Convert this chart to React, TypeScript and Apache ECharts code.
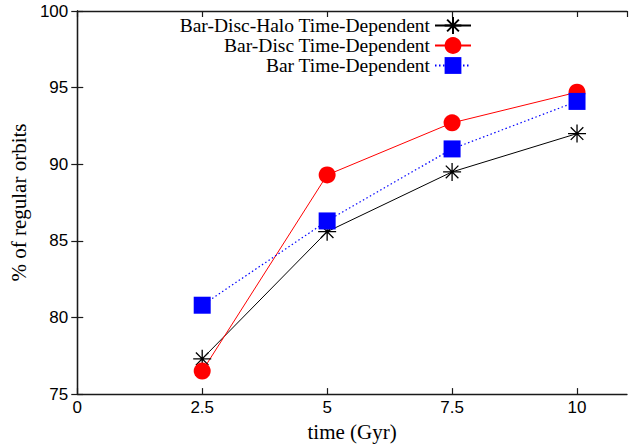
import React, { useEffect, useRef } from "react";
import * as echarts from "echarts";

// Time in Gyr at which the orbits were classified
const times = [2.5, 5, 7.5, 10];
// Percentage of regular orbits for each model
const barDiscHalo = [77.3, 85.6, 89.5, 92.0];
const barDisc = [76.5, 89.3, 92.7, 94.7];
const barOnly = [80.8, 86.3, 91.0, 94.1];

const seriesNames = [
  "Bar-Disc-Halo Time-Dependent",
  "Bar-Disc Time-Dependent",
  "Bar Time-Dependent",
];

const xTickLabels = ["0", "2.5", "5", "7.5", "10"];

// Eight-armed star: plus sign overlaid with a cross
const ASTERISK = "path://M0,10L20,10M10,0L10,20M3,3L17,17M17,3L3,17";

const SERIF = "Liberation Serif, Times New Roman, serif";
const SANS = "Liberation Sans, Arial, sans-serif";
const FRAME = "#1a1a1a";

const pairs = (ys: number[]) => times.map((t, i) => [t, ys[i]]);

export default function App() {
  const ref = useRef<HTMLDivElement>(null);

  useEffect(() => {
    if (!ref.current) return;
    const chart = echarts.init(ref.current, undefined, { renderer: "svg" });

    const frameAxis = {
      axisLine: { show: true, lineStyle: { color: FRAME, width: 1.3 } },
      axisTick: { show: true, inside: true, length: 6, lineStyle: { color: FRAME, width: 1.2 } },
      splitLine: { show: false },
    };

    chart.setOption({
      animation: false,
      backgroundColor: "#ffffff",
      textStyle: { fontFamily: SERIF },
      grid: { left: 72, right: 4, top: 11, bottom: 46, containLabel: false },
      legend: {
        data: seriesNames,
        orient: "vertical",
        align: "right",
        right: 159,
        top: 15.5,
        padding: 0,
        itemWidth: 36,
        itemHeight: 21,
        itemGap: 0,
        selectedMode: false,
        textStyle: { fontFamily: SERIF, fontSize: 19.5, color: "#000", fontWeight: "normal" },
      },
      xAxis: [
        {
          type: "value",
          min: 0,
          max: 11,
          interval: 2.5,
          position: "bottom",
          ...frameAxis,
          axisLabel: {
            fontFamily: SANS,
            fontSize: 17,
            color: "#000",
            margin: 5,
            showMaxLabel: false,
            formatter: (v: number) => {
              const s = String(v);
              return xTickLabels.includes(s) ? s : "";
            },
          },
          name: "time (Gyr)",
          nameLocation: "middle",
          nameGap: 22,
          nameTextStyle: { fontFamily: SERIF, fontSize: 21, color: "#000", fontWeight: "normal" },
        },
        {
          type: "value",
          min: 0,
          max: 11,
          interval: 2.5,
          position: "top",
          ...frameAxis,
          axisLabel: { show: false },
        },
      ],
      yAxis: [
        {
          type: "value",
          min: 75,
          max: 100,
          interval: 5,
          position: "left",
          ...frameAxis,
          axisLabel: { fontFamily: SANS, fontSize: 17, color: "#000", margin: 9 },
          name: "% of regular orbits",
          nameLocation: "middle",
          nameRotate: 90,
          nameGap: 36,
          nameTextStyle: { fontFamily: SERIF, fontSize: 21, color: "#000", fontWeight: "normal" },
        },
        {
          type: "value",
          min: 75,
          max: 100,
          interval: 5,
          position: "right",
          ...frameAxis,
          axisLabel: { show: false },
        },
      ],
      series: [
        {
          name: seriesNames[0],
          type: "line",
          data: pairs(barDiscHalo),
          symbol: ASTERISK,
          symbolSize: 18,
          color: "#000000",
          lineStyle: { color: "#000000", width: 1 },
          itemStyle: { color: "#000000", borderColor: "#000000", borderWidth: 1.3 },
        },
        {
          name: seriesNames[1],
          type: "line",
          data: pairs(barDisc),
          symbol: "circle",
          symbolSize: 17,
          color: "#ff0000",
          lineStyle: { color: "#ff0000", width: 1 },
          itemStyle: { color: "#ff0000" },
        },
        {
          name: seriesNames[2],
          type: "line",
          data: pairs(barOnly),
          symbol: "rect",
          symbolSize: 17,
          color: "#0000ff",
          lineStyle: { color: "#0000ff", width: 1.2, type: [1.5, 2.5] },
          itemStyle: { color: "#0000ff" },
        },
      ],
    });

    return () => chart.dispose();
  }, []);

  return (
    <div
      ref={ref}
      style={{ position: "absolute", left: 0, top: 0, width: 631, height: 447 }}
    />
  );
}
